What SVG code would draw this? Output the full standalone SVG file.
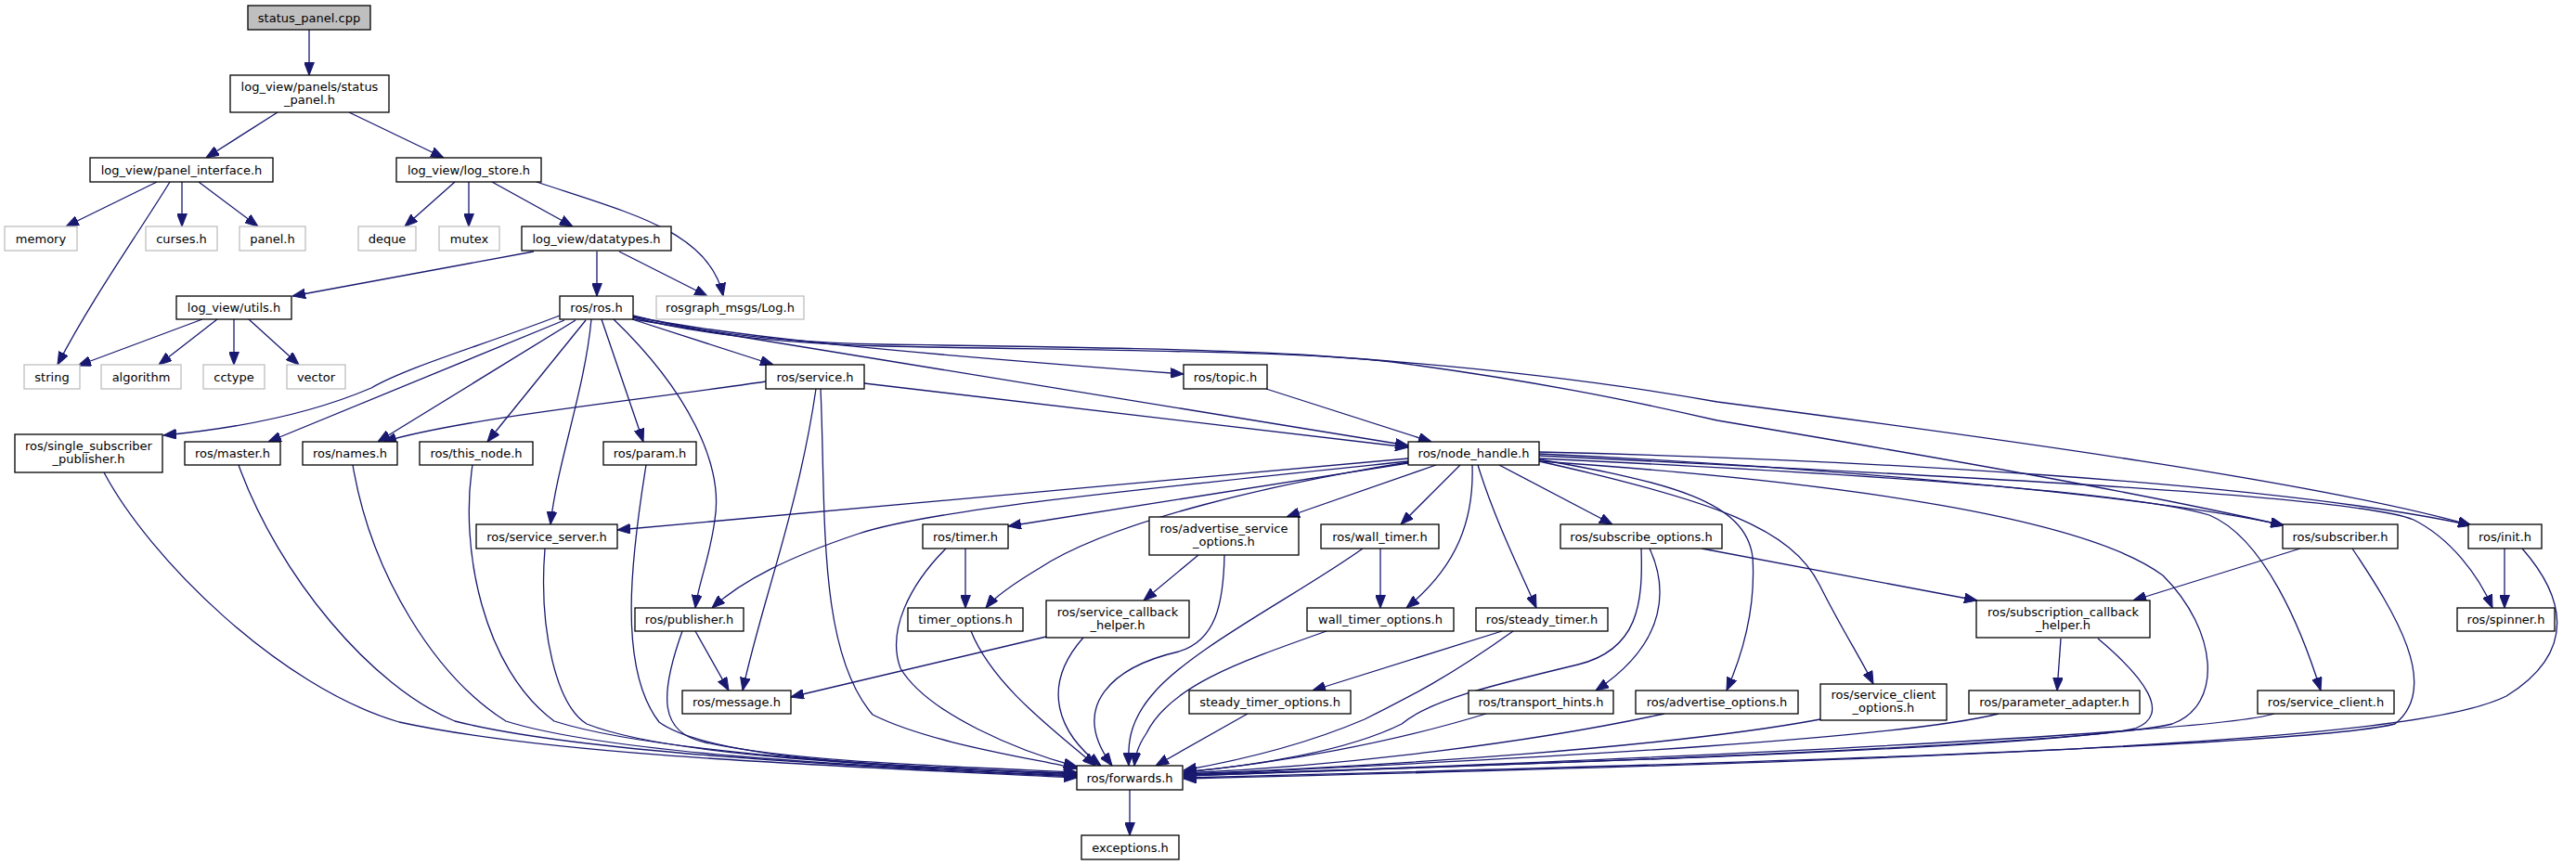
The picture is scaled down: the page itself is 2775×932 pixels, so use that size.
<svg xmlns="http://www.w3.org/2000/svg" width="2775" height="932" viewBox="0 0 2775 932">
<style>
.n rect{fill:#fff;stroke:#000;stroke-width:1.3}
.n.g rect{stroke:#bfbfbf}
.n.root rect{fill:#bfbfbf}
.n text{font-family:"DejaVu Sans","Liberation Sans",sans-serif;font-size:13px;fill:#000;text-anchor:middle}
#edges path{fill:none;stroke:#191970;stroke-width:1.3;marker-end:url(#arr)}
</style>
<defs>
<marker id="arr" markerUnits="userSpaceOnUse" markerWidth="14" markerHeight="11" viewBox="0 0 13 10" refX="13" refY="5" orient="auto">
<path d="M0,0 L13,5 L0,10 z" fill="#191970" stroke="#191970" stroke-width="1"/>
</marker>
</defs>
<rect width="2775" height="932" fill="#fff"/>
<g id="edges">
<path d="M333,32 L333,81"/>
<path d="M299,121 L222,170"/>
<path d="M376,121 L478,170"/>
<path d="M169,196 L71,244"/>
<path d="M183,196 C150,250 100,320 62,393"/>
<path d="M196,196 L196,244"/>
<path d="M214,196 L278,244"/>
<path d="M490,196 L436,244"/>
<path d="M505,196 L505,244"/>
<path d="M530,196 L617,244"/>
<path d="M578,196 C680,230 765,250 779,319"/>
<path d="M575,271 L315,319"/>
<path d="M643,271 L643,319"/>
<path d="M667,271 L762,319"/>
<path d="M218,344 L84,394"/>
<path d="M234,344 L171,393"/>
<path d="M252,344 L252,393"/>
<path d="M268,344 L322,393"/>
<path d="M603,340 C520,372 440,395 400,418 C330,448 250,462 176,469"/>
<path d="M608,345 L289,476"/>
<path d="M620,345 L407,476"/>
<path d="M631,345 L525,476"/>
<path d="M637,344 C630,420 600,500 593,565"/>
<path d="M648,344 L693,476"/>
<path d="M661,344 C740,420 780,500 770,560 C765,600 752,630 749,655"/>
<path d="M681,344 L833,393"/>
<path d="M682,344 L1517,480"/>
<path d="M931,413 L1517,482"/>
<path d="M682,341 C800,365 1000,382 1275,403"/>
<path d="M682,340 C760,360 850,369 950,371 C1150,374 1300,376 1400,382 C1600,395 1750,415 1850,433 C2150,472 2500,520 2662,566"/>
<path d="M682,342 C760,362 850,370 950,373 C1200,378 1400,378 1500,390 C1650,410 1750,430 1850,453 C2100,495 2300,530 2460,566"/>
<path d="M1364,419 L1542,476"/>
<path d="M1517,494 L665,571"/>
<path d="M1517,497 C1200,530 1000,550 925,575 C850,600 800,625 767,655"/>
<path d="M1517,499 L1086,567"/>
<path d="M1517,498 C1380,520 1200,560 1120,612 C1090,630 1070,645 1062,655"/>
<path d="M1547,501 L1386,557"/>
<path d="M1573,501 L1509,565"/>
<path d="M1586,501 C1588,560 1570,610 1515,655"/>
<path d="M1592,501 C1610,560 1640,620 1655,655"/>
<path d="M1615,501 L1737,565"/>
<path d="M1658,489 C1900,500 2300,530 2460,566"/>
<path d="M1658,487 C2000,495 2450,520 2662,566"/>
<path d="M1658,491 C2150,515 2540,535 2600,560 C2640,580 2670,620 2685,655"/>
<path d="M1658,494 C2000,510 2300,530 2380,555 C2440,580 2480,680 2500,744"/>
<path d="M1658,497 C2000,520 2250,560 2330,620 C2390,680 2395,760 2340,780 C2250,802 1700,822 1275,836"/>
<path d="M1658,495 C1800,520 1880,540 1888,600 C1892,660 1875,710 1860,744"/>
<path d="M1658,497 C1850,540 1930,570 1960,630 C1985,680 2005,710 2018,737"/>
<path d="M825,411 C700,430 500,450 413,476"/>
<path d="M879,419 C860,550 820,650 800,744"/>
<path d="M884,419 C890,550 880,700 940,770 C1000,800 1100,815 1160,828"/>
<path d="M112,509 C160,600 300,740 430,778 C600,815 900,825 1160,838"/>
<path d="M257,501 C300,620 400,740 490,777 C620,810 900,825 1160,837"/>
<path d="M380,501 C400,620 470,730 545,777 C650,810 900,825 1160,836"/>
<path d="M509,501 C495,590 520,720 597,777 C700,810 950,825 1160,835"/>
<path d="M587,591 C580,680 600,760 632,780 C720,815 950,825 1160,834"/>
<path d="M696,501 C680,600 665,720 710,778 C760,815 950,828 1160,833"/>
<path d="M735,680 C710,750 710,790 760,800 C850,820 1000,825 1160,832"/>
<path d="M749,680 L785,744"/>
<path d="M1019,591 C980,630 955,680 970,720 C1000,770 1100,810 1160,826"/>
<path d="M1040,591 L1040,655"/>
<path d="M1046,680 C1070,740 1140,790 1180,825"/>
<path d="M1291,598 L1232,647"/>
<path d="M1319,598 C1318,650 1310,690 1270,702 C1200,718 1150,760 1198,825"/>
<path d="M1127,686 L852,751"/>
<path d="M1167,687 C1120,740 1140,790 1186,825"/>
<path d="M1468,591 C1400,640 1280,700 1240,750 C1215,780 1215,805 1216,825"/>
<path d="M1487,591 L1487,655"/>
<path d="M1429,680 C1330,715 1260,740 1235,790 C1225,805 1223,815 1222,825"/>
<path d="M1618,680 L1414,744"/>
<path d="M1630,680 C1560,730 1520,750 1470,775 C1400,805 1320,822 1275,830"/>
<path d="M1344,769 L1245,825"/>
<path d="M1768,591 C1770,650 1765,700 1700,716 C1600,740 1540,755 1510,780 C1450,810 1350,825 1275,832"/>
<path d="M1777,591 C1795,630 1800,690 1719,744"/>
<path d="M1833,591 L2130,647"/>
<path d="M2478,591 L2298,647"/>
<path d="M2534,591 C2580,660 2630,740 2580,780 C2500,800 2000,820 1275,838"/>
<path d="M2698,591 L2698,655"/>
<path d="M2717,591 C2760,640 2780,700 2700,750 C2620,790 2300,815 1275,839"/>
<path d="M1601,769 C1500,800 1380,822 1275,832"/>
<path d="M1793,769 C1650,800 1450,825 1275,833"/>
<path d="M1961,775 C1800,805 1500,825 1275,834"/>
<path d="M2153,769 C2050,795 1700,815 1275,835"/>
<path d="M2260,688 C2310,730 2340,770 2300,785 C2200,805 1700,822 1275,835"/>
<path d="M2220,688 L2216,744"/>
<path d="M2450,769 C2400,785 2000,810 1275,836"/>
<path d="M1217,851 L1217,900"/>
</g>
<g id="n_status_cpp" class="n root"><rect x="267" y="6" width="132" height="26"/><text x="333" y="23.5">status_panel.cpp</text></g>
<g id="n_status_h" class="n"><rect x="248" y="81" width="171" height="40"/><text x="333.5" y="97.5">log_view/panels/status</text><text x="333.5" y="111.5">_panel.h</text></g>
<g id="n_panel_iface" class="n"><rect x="97" y="170" width="197" height="26"/><text x="195.5" y="187.5">log_view/panel_interface.h</text></g>
<g id="n_log_store" class="n"><rect x="427" y="170" width="156" height="26"/><text x="505" y="187.5">log_view/log_store.h</text></g>
<g id="n_memory" class="n g"><rect x="5" y="244" width="78" height="26"/><text x="44" y="261.5">memory</text></g>
<g id="n_curses" class="n g"><rect x="157" y="244" width="77" height="26"/><text x="195.5" y="261.5">curses.h</text></g>
<g id="n_panel" class="n g"><rect x="258" y="244" width="71" height="26"/><text x="293.5" y="261.5">panel.h</text></g>
<g id="n_deque" class="n g"><rect x="386" y="244" width="62" height="26"/><text x="417" y="261.5">deque</text></g>
<g id="n_mutex" class="n g"><rect x="473" y="244" width="65" height="26"/><text x="505.5" y="261.5">mutex</text></g>
<g id="n_datatypes" class="n"><rect x="562" y="244" width="161" height="26"/><text x="642.5" y="261.5">log_view/datatypes.h</text></g>
<g id="n_utils" class="n"><rect x="190" y="319" width="124" height="25"/><text x="252" y="336">log_view/utils.h</text></g>
<g id="n_ros" class="n"><rect x="603" y="319" width="79" height="25"/><text x="642.5" y="336">ros/ros.h</text></g>
<g id="n_log" class="n g"><rect x="707" y="319" width="159" height="25"/><text x="786.5" y="336">rosgraph_msgs/Log.h</text></g>
<g id="n_string" class="n g"><rect x="26" y="393" width="60" height="26"/><text x="56" y="410.5">string</text></g>
<g id="n_algorithm" class="n g"><rect x="109" y="393" width="86" height="26"/><text x="152" y="410.5">algorithm</text></g>
<g id="n_cctype" class="n g"><rect x="219" y="393" width="66" height="26"/><text x="252" y="410.5">cctype</text></g>
<g id="n_vector" class="n g"><rect x="309" y="393" width="63" height="26"/><text x="340.5" y="410.5">vector</text></g>
<g id="n_service" class="n"><rect x="825" y="393" width="106" height="26"/><text x="878" y="410.5">ros/service.h</text></g>
<g id="n_topic" class="n"><rect x="1275" y="393" width="90" height="26"/><text x="1320" y="410.5">ros/topic.h</text></g>
<g id="n_ssp" class="n"><rect x="16" y="468" width="159" height="41"/><text x="95.5" y="485">ros/single_subscriber</text><text x="95.5" y="499">_publisher.h</text></g>
<g id="n_master" class="n"><rect x="199" y="476" width="103" height="25"/><text x="250.5" y="493">ros/master.h</text></g>
<g id="n_names" class="n"><rect x="326" y="476" width="102" height="25"/><text x="377" y="493">ros/names.h</text></g>
<g id="n_this_node" class="n"><rect x="452" y="476" width="122" height="25"/><text x="513" y="493">ros/this_node.h</text></g>
<g id="n_param" class="n"><rect x="650" y="476" width="100" height="25"/><text x="700" y="493">ros/param.h</text></g>
<g id="n_node_handle" class="n"><rect x="1517" y="476" width="141" height="25"/><text x="1587.5" y="493">ros/node_handle.h</text></g>
<g id="n_service_server" class="n"><rect x="513" y="565" width="152" height="26"/><text x="589" y="582.5">ros/service_server.h</text></g>
<g id="n_timer" class="n"><rect x="994" y="565" width="92" height="26"/><text x="1040" y="582.5">ros/timer.h</text></g>
<g id="n_aso" class="n"><rect x="1238" y="557" width="161" height="41"/><text x="1318.5" y="574">ros/advertise_service</text><text x="1318.5" y="588">_options.h</text></g>
<g id="n_wall_timer" class="n"><rect x="1423" y="565" width="127" height="26"/><text x="1486.5" y="582.5">ros/wall_timer.h</text></g>
<g id="n_sub_opts" class="n"><rect x="1681" y="565" width="174" height="26"/><text x="1768" y="582.5">ros/subscribe_options.h</text></g>
<g id="n_subscriber" class="n"><rect x="2459" y="565" width="124" height="26"/><text x="2521" y="582.5">ros/subscriber.h</text></g>
<g id="n_init" class="n"><rect x="2659" y="565" width="79" height="26"/><text x="2698.5" y="582.5">ros/init.h</text></g>
<g id="n_publisher" class="n"><rect x="684" y="655" width="117" height="25"/><text x="742.5" y="672">ros/publisher.h</text></g>
<g id="n_timer_opts" class="n"><rect x="978" y="655" width="124" height="25"/><text x="1040" y="672">timer_options.h</text></g>
<g id="n_scb" class="n"><rect x="1127" y="647" width="154" height="40"/><text x="1204" y="663.5">ros/service_callback</text><text x="1204" y="677.5">_helper.h</text></g>
<g id="n_wto" class="n"><rect x="1408" y="655" width="158" height="25"/><text x="1487" y="672">wall_timer_options.h</text></g>
<g id="n_steady" class="n"><rect x="1590" y="655" width="142" height="25"/><text x="1661" y="672">ros/steady_timer.h</text></g>
<g id="n_subcb" class="n"><rect x="2129" y="647" width="187" height="40"/><text x="2222.5" y="663.5">ros/subscription_callback</text><text x="2222.5" y="677.5">_helper.h</text></g>
<g id="n_spinner" class="n"><rect x="2647" y="655" width="105" height="25"/><text x="2699.5" y="672">ros/spinner.h</text></g>
<g id="n_message" class="n"><rect x="735" y="744" width="117" height="25"/><text x="793.5" y="761">ros/message.h</text></g>
<g id="n_sto" class="n"><rect x="1281" y="744" width="174" height="25"/><text x="1368" y="761">steady_timer_options.h</text></g>
<g id="n_th" class="n"><rect x="1582" y="744" width="156" height="25"/><text x="1660" y="761">ros/transport_hints.h</text></g>
<g id="n_ao" class="n"><rect x="1762" y="744" width="175" height="25"/><text x="1849.5" y="761">ros/advertise_options.h</text></g>
<g id="n_sco" class="n"><rect x="1961" y="737" width="136" height="39"/><text x="2029" y="753">ros/service_client</text><text x="2029" y="767">_options.h</text></g>
<g id="n_pa" class="n"><rect x="2121" y="744" width="184" height="25"/><text x="2213" y="761">ros/parameter_adapter.h</text></g>
<g id="n_sc" class="n"><rect x="2432" y="744" width="147" height="25"/><text x="2505.5" y="761">ros/service_client.h</text></g>
<g id="n_forwards" class="n"><rect x="1160" y="825" width="114" height="26"/><text x="1217" y="842.5">ros/forwards.h</text></g>
<g id="n_exceptions" class="n"><rect x="1165" y="900" width="105" height="26"/><text x="1217.5" y="917.5">exceptions.h</text></g>
</svg>
